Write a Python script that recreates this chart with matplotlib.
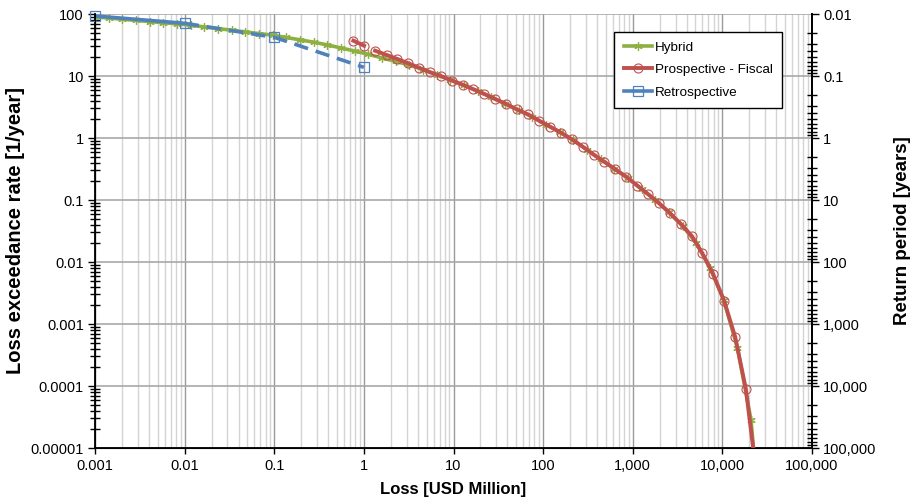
"""Loss exceedance curves: hybrid, prospective and retrospective."""

import matplotlib
matplotlib.use("Agg")
import matplotlib.pyplot as plt
import numpy as np
from matplotlib.lines import Line2D
from matplotlib.ticker import LogLocator, NullFormatter

plt.rcParams["font.family"] = ["Liberation Sans", "DejaVu Sans"]

# Hybrid curve: loss [USD million] vs exceedance rate [1/year]
hybrid_loss = [0.001, 0.00142, 0.00202, 0.00287, 0.00407, 0.00579, 0.00822,
               0.0117, 0.0166, 0.0236, 0.0335, 0.0476, 0.0676, 0.0961, 0.136,
               0.194, 0.275, 0.391, 0.556, 0.790, 1.12, 1.59, 2.26, 3.22, 4.57,
               6.49, 9.23, 13.1, 18.6, 26.5, 37.6, 53.4, 75.9, 108, 153, 218,
               309, 439, 624, 886, 1259, 1789, 2541, 3610, 5129, 7288, 10351,
               14710, 20893, 22500]
hybrid_rate = [90.0, 86.1, 82.4, 78.9, 75.5, 72.3, 69.3, 65.8, 61.9, 58.2, 54.7,
               51.4, 48.4, 45.5, 41.8, 38.3, 35.1, 31.7, 28.3, 25.3, 22.4, 19.6,
               17.2, 15.0, 12.7, 10.5, 8.65, 7.08, 5.70, 4.54, 3.60, 2.81, 2.19,
               1.65, 1.25, 0.916, 0.646, 0.452, 0.319, 0.224, 0.150, 0.0995,
               0.0633, 0.0381, 0.0200, 0.00798, 0.00245, 0.000414, 0.0000283,
               0.000008]

# Prospective - Fiscal (gap after the first two points)
prosp_loss = [0.764, 1.005, 1.1, 1.334, 1.80, 2.37, 3.14, 4.13, 5.48, 7.21, 9.72,
              12.9, 16.7, 22.1, 29.1, 38.6, 50.8, 67.5, 90.2, 119.7, 157.7, 209,
              277, 371, 480, 637, 844, 1128, 1475, 1972, 2613, 3443, 4570, 5954,
              7889, 10470, 13900, 18280, 22500]
prosp_rate = [37.1, 30.8, np.nan, 25.6, 21.8, 18.8, 16.0, 13.6, 11.5, 10.0, 8.40,
              7.16, 6.10, 5.13, 4.26, 3.53, 2.90, 2.41, 1.90, 1.52, 1.22, 0.953,
              0.724, 0.532, 0.415, 0.313, 0.238, 0.170, 0.125, 0.0885, 0.061,
              0.041, 0.0262, 0.0140, 0.0064, 0.00235, 0.000617, 0.0000895,
              0.000008]

# Retrospective
retro_loss = [0.001, 0.01, 0.1, 1]
retro_rate = [93, 70.8, 42.1, 13.8]

x_ticks = [0.001, 0.01, 0.1, 1, 10, 100, 1000, 10000, 100000]
x_labels = ["0.001", "0.01", "0.1", "1", "10", "100", "1,000", "10,000", "100,000"]
y_ticks = [0.00001, 0.0001, 0.001, 0.01, 0.1, 1, 10, 100]
y_labels = ["0.00001", "0.0001", "0.001", "0.01", "0.1", "1", "10", "100"]
rp_ticks = [0.01, 0.1, 1, 10, 100, 1000, 10000, 100000]
rp_labels = ["0.01", "0.1", "1", "10", "100", "1,000", "10,000", "100,000"]

GREEN = "#8db040"
RED = "#c0504d"
BLUE = "#4f81bd"

fig = plt.figure(figsize=(9.13, 5.03), dpi=100)
ax = fig.add_axes([95 / 913, 1 - 448 / 503, 717 / 913, 434 / 503])

ax.set_xscale("log")
ax.set_yscale("log")
ax.set_xlim(0.001, 100000)
ax.set_ylim(0.00001, 100)

# grid
ax.xaxis.set_minor_locator(LogLocator(base=10, subs=np.arange(2, 10)))
ax.xaxis.set_minor_formatter(NullFormatter())
ax.grid(True, which="major", axis="x", color="#9a9a9a", lw=1.0)
ax.grid(True, which="minor", axis="x", color="#d4d4d4", lw=1.0)
ax.grid(True, which="major", axis="y", color="#a8a8a8", lw=1.2)
ax.set_axisbelow(True)

ax.plot(hybrid_loss, hybrid_rate, color=GREEN, lw=2.6, marker=(6, 2, 0),
        ms=6, mec=GREEN, mew=0.9, zorder=3)
ax.plot(prosp_loss, prosp_rate, color=RED, lw=2.8, marker="o", ms=6.5,
        mfc="none", mec=RED, mew=0.8, zorder=4)
ax.plot(retro_loss[:2], retro_rate[:2], color=BLUE, lw=2.6, zorder=5)
ax.plot(retro_loss[1:], retro_rate[1:], color=BLUE, lw=2.6, dashes=(4, 2.2),
        zorder=5)
ax.plot(retro_loss, retro_rate, ls="none", marker="s", ms=7, mfc="none",
        mec=BLUE, mew=0.9, zorder=6, clip_on=False)

ax.set_xticks(x_ticks, labels=x_labels)
ax.set_yticks(y_ticks, labels=y_labels)
ax.yaxis.set_minor_locator(LogLocator(base=10, subs=np.arange(2, 10)))
ax.yaxis.set_minor_formatter(NullFormatter())
ax.tick_params(axis="x", which="major", direction="out", length=4, width=1,
               labelsize=10.5, pad=4)
ax.tick_params(axis="x", which="minor", length=0)
ax.tick_params(axis="y", which="major", direction="out", length=5, width=1,
               labelsize=10.5, pad=3)
ax.tick_params(axis="y", which="minor", direction="inout", length=7, width=1)

for side in ["left", "bottom", "right"]:
    ax.spines[side].set_linewidth(1.3)
ax.spines["top"].set_visible(False)

ax.set_xlabel("Loss [USD Million]", fontsize=12, fontweight="bold")
ax.xaxis.set_label_coords(0.5, -0.078)
ax.set_ylabel("Loss exceedance rate [1/year]", fontsize=14.5, fontweight="bold")
ax.yaxis.set_label_coords(-0.097, 0.5)

# return period axis on the right
ax2 = ax.twinx()
ax2.set_yscale("log")
ax2.set_ylim(100000, 0.01)
ax2.set_yticks(rp_ticks, labels=rp_labels)
ax2.yaxis.set_minor_locator(LogLocator(base=10, subs=np.arange(2, 10)))
ax2.yaxis.set_minor_formatter(NullFormatter())
ax2.tick_params(axis="y", which="major", direction="out", length=5, width=1,
                labelsize=10.5, pad=3)
ax2.tick_params(axis="y", which="minor", direction="inout", length=7, width=1)
ax2.spines["top"].set_visible(False)
ax2.spines["right"].set_linewidth(1.3)
ax2.set_ylabel("Return period [years]", fontsize=13.5, fontweight="bold")
ax2.yaxis.set_label_coords(1.114, 0.5)

handles = [
    Line2D([], [], color=GREEN, lw=2.6, marker=(6, 2, 0), ms=6, mec=GREEN, mew=0.9),
    Line2D([], [], color=RED, lw=2.8, marker="o", ms=6.5, mfc="none", mec=RED, mew=0.8),
    Line2D([], [], color=BLUE, lw=2.6, marker="s", ms=6.5, mfc="none", mec=BLUE, mew=0.9),
]
leg = ax2.legend(handles, ["Hybrid", "Prospective - Fiscal", "Retrospective"],
                 loc="upper right", bbox_to_anchor=(0.958, 0.959),
                 fontsize=9.7, frameon=True, fancybox=False, framealpha=1,
                 edgecolor="black", handlelength=2.1, handletextpad=0.2,
                 labelspacing=0.75, borderpad=0.7, borderaxespad=0)
leg.get_frame().set_linewidth(1.0)

fig.savefig("out.png", dpi=100)
